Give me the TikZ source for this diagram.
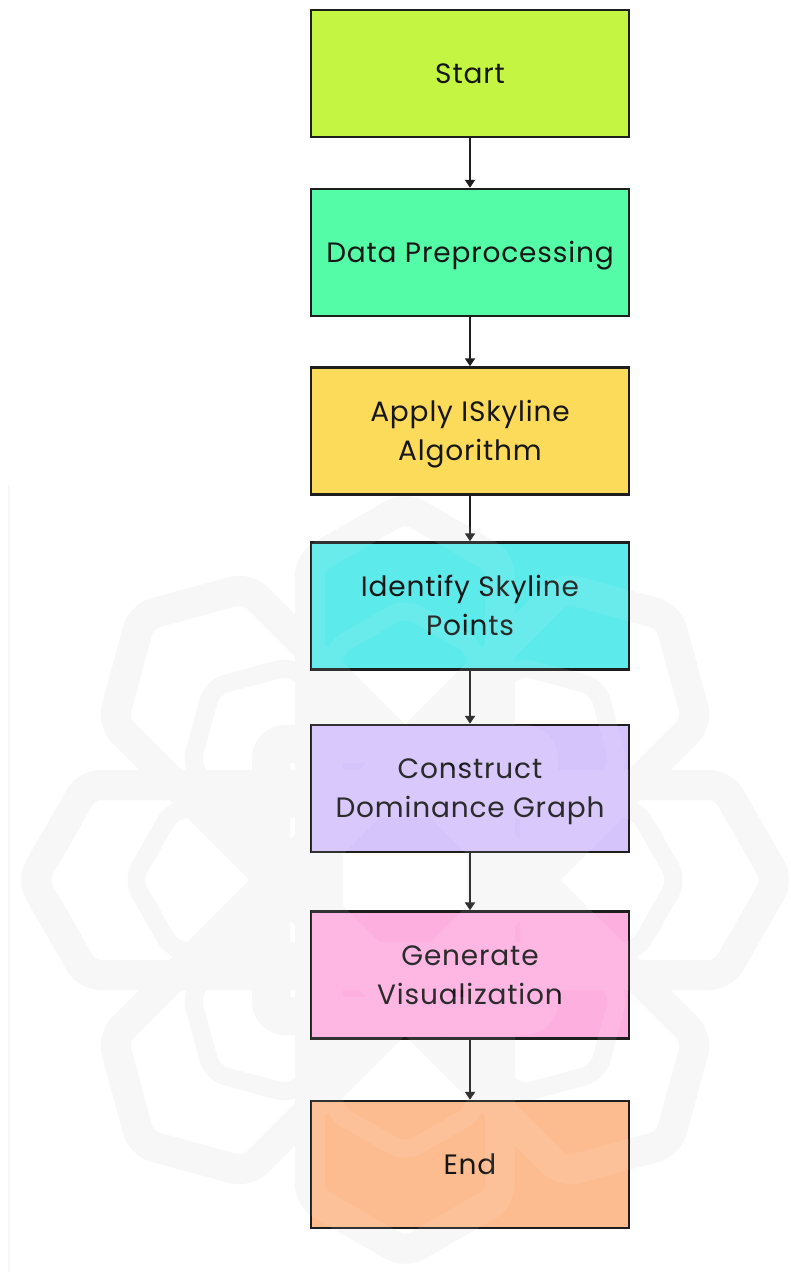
\documentclass[tikz,border=0pt]{standalone}
\usepackage{fontspec}
\setmainfont{Poppins}[LetterSpace=3]
\usetikzlibrary{arrows.meta}

\definecolor{boxline}{HTML}{1E1E1E}
\definecolor{ink}{HTML}{161616}
\definecolor{cStart}{HTML}{C5F543}
\definecolor{cPrep}{HTML}{55FCA7}
\definecolor{cApply}{HTML}{FDDB5A}
\definecolor{cIdent}{HTML}{5CEAEA}
\definecolor{cGraph}{HTML}{D5C3FB}
\definecolor{cVis}{HTML}{FDB0E0}
\definecolor{cEnd}{HTML}{FDBB90}
\definecolor{wmgrey}{HTML}{F7F7F7}

% centre line of one elongated hexagonal band: tip, corner x, corner y
\newcommand\hexring[3]{(#1,0) -- (#2,#3) -- (-#2,#3) -- (-#1,0) -- (-#2,-#3) -- (#2,-#3) -- cycle}

% the background rosette emblem
\newcommand\rosette[1]{%
  \begin{scope}[shift={(405,880)}]
    \foreach \ang in {0,45,90,135}{
      \draw[#1, line width=30pt, rotate=\ang] \hexring{372.7}{318.3}{95};
      \draw[#1, line width=18pt, rotate=\ang] \hexring{272.6}{231.9}{71};
    }
    \draw[#1, line width=38pt] (-134,-136) rectangle (134,136);
  \end{scope}}

\tikzset{
  stepbox/.style={draw=boxline, line width=2.4pt, minimum width=318pt,
    minimum height=127pt, inner sep=0pt, text=ink, align=center,
    font=\fontsize{28}{39}\selectfont, text depth=0pt},
  oneline/.style={stepbox, text height=19.5pt},
  twoline/.style={stepbox, text height=58.5pt},
  flow/.style={draw=boxline, line width=2pt, -{Triangle[length=8pt,width=10pt]}},
  wmband/.style={draw=wmgrey, rounded corners=14pt, line join=round},
  wmveil/.style={draw=white, rounded corners=14pt, line join=round}
}

\begin{document}
\begin{tikzpicture}[x=1pt,y=-1pt]
  \useasboundingbox[fill=white] (0,0) rectangle (790,1272);

  % faint emblem behind the chart
  \rosette{wmband}
  \draw[wmgrey, line width=2pt] (9,485) -- (9,1272);

  % process steps
  \node[oneline, fill=cStart] (start) at (470,73.5) {Start};
  \node[oneline, fill=cPrep]  (prep)  at (470,252.5) {Data Preprocessing};
  \node[twoline, fill=cApply] (apply) at (470,431) {Apply ISkyline\\Algorithm};
  \node[twoline, fill=cIdent] (ident) at (470,606) {Identify Skyline\\Points};
  \node[twoline, fill=cGraph] (graph) at (470,788.5) {Construct\\Dominance Graph};
  \node[twoline, fill=cVis]   (vis)   at (470,975) {Generate\\Visualization};
  \node[oneline, fill=cEnd]   (fin)   at (470,1164.5) {End};

  % flow
  \draw[flow] (start.south) -- (prep.north);
  \draw[flow] (prep.south)  -- (apply.north);
  \draw[flow] (apply.south) -- (ident.north);
  \draw[flow] (ident.south) -- (graph.north);
  \draw[flow] (graph.south) -- (vis.north);
  \draw[flow] (vis.south)   -- (fin.north);

  % the emblem shows faintly through the coloured boxes
  \begin{scope}[transparency group, opacity=0.09]
    \clip (311,10) rectangle (629,1228);
    \rosette{wmveil}
  \end{scope}
\end{tikzpicture}
\end{document}
